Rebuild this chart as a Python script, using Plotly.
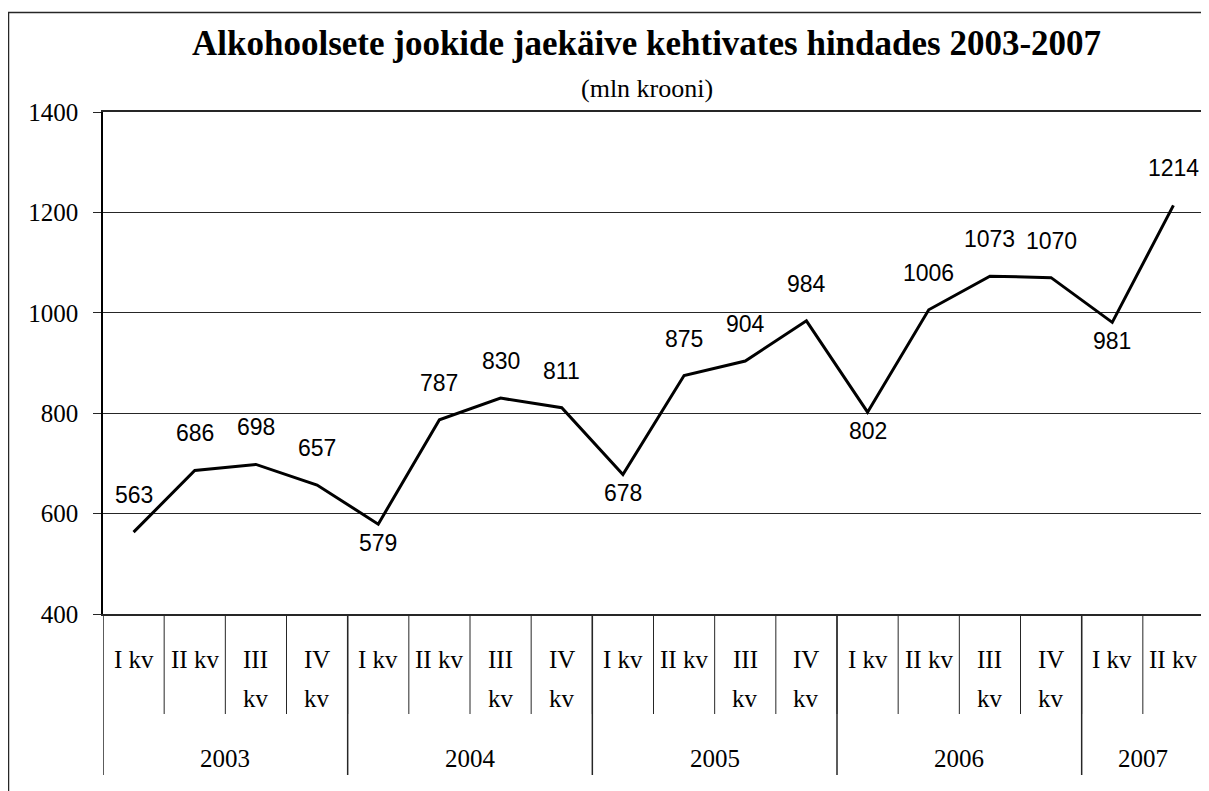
import plotly.graph_objects as go

# quarterly retail sales of alcoholic beverages, mln kroons
YEARS = ["2003", "2004", "2005", "2006", "2007"]
QUARTERS = [
    "I kv", "II kv", "III kv", "IV kv",
    "I kv", "II kv", "III kv", "IV kv",
    "I kv", "II kv", "III kv", "IV kv",
    "I kv", "II kv", "III kv", "IV kv",
    "I kv", "II kv",
]
QUARTERS_PER_YEAR = [4, 4, 4, 4, 2]
SALES = [563, 686, 698, 657,
         579, 787, 830, 811,
         678, 875, 904, 984,
         802, 1006, 1073, 1070,
         981, 1214]

TITLE = "Alkohoolsete jookide jaekäive kehtivates hindades 2003-2007"
SUBTITLE = "(mln krooni)"

# labels too wide for their slot get wrapped onto two lines, as in Excel
WRAPPED = {"III kv", "IV kv"}

SERIF = "Liberation Serif, Times New Roman, serif"
SANS = "Liberation Sans, Arial, sans-serif"
LINE_COLOR = "#262626"

# page has an 8px body margin; targets below are screen pixels
OFF = 8
W, H = 1209, 791
L, R, T, B = 103 - OFF, 1204 - OFF, 112 - OFF, 614 - OFF


def py(screen_y):
    """screen pixel row -> paper y"""
    return (B - (screen_y - OFF)) / (B - T)


def px_(screen_x):
    return (screen_x - OFF - L) / (R - L)


def label(fig, text, **kw):
    fig.add_annotation(text=text, showarrow=False,
                       xanchor="center", yanchor="middle", **kw)


def sales_line():
    xs = list(range(len(SALES)))
    fig = go.Figure(go.Scatter(x=xs, y=SALES, mode="lines",
                               line=dict(color="black", width=3),
                               hoverinfo="skip", showlegend=False))

    # data labels: below local minima, above everything else
    for i, v in enumerate(SALES):
        below = 0 < i < len(SALES) - 1 and v < SALES[i - 1] and v < SALES[i + 1]
        label(fig, str(v), x=i, y=v, yshift=-19 if below else 37,
              font=dict(family=SANS, size=23, color="black"))

    # category axis, level 1: quarters
    for i, q in enumerate(QUARTERS):
        parts = q.split(" ") if q in WRAPPED else [q]
        for row, part in enumerate(parts):
            label(fig, part, x=i, xref="x", y=py(659 + 39 * row), yref="paper",
                  font=dict(family=SERIF, size=25, color="black"))
        if i < len(QUARTERS) - 1:
            fig.add_shape(type="line", xref="x", yref="paper",
                          x0=i + 0.5, x1=i + 0.5, y0=0, y1=py(714),
                          line=dict(color=LINE_COLOR, width=1))

    # level 2: years
    start = 0
    bounds = [-0.5]
    for year, n in zip(YEARS, QUARTERS_PER_YEAR):
        label(fig, year, x=start + (n - 1) / 2, xref="x", y=py(758), yref="paper",
              font=dict(family=SERIF, size=25, color="black"))
        start += n
        bounds.append(start - 0.5)
    for b in bounds:
        fig.add_shape(type="line", xref="x", yref="paper",
                      x0=b, x1=b, y0=0, y1=py(775),
                      line=dict(color=LINE_COLOR, width=1.5))

    # titles
    label(fig, "<b>" + TITLE + "</b>", x=px_(646), y=py(44),
          xref="paper", yref="paper",
          font=dict(family=SERIF, size=35, color="black"))
    label(fig, SUBTITLE, x=px_(647), y=py(88), xref="paper", yref="paper",
          font=dict(family=SERIF, size=26, color="black"))

    # outer chart border
    fig.add_shape(type="rect", xref="paper", yref="paper",
                  x0=px_(8.5), x1=px_(1240), y0=py(820), y1=py(12.5),
                  line=dict(color=LINE_COLOR, width=1.5))

    fig.update_layout(
        width=W, height=H,
        margin=dict(l=L, r=W - R, t=T, b=H - B),
        paper_bgcolor="white", plot_bgcolor="white",
        showlegend=False,
    )
    fig.update_xaxes(range=[-0.5, len(SALES) - 0.5], showticklabels=False,
                     showgrid=False, zeroline=False, ticks="",
                     showline=True, linecolor=LINE_COLOR, linewidth=1.5, mirror=True)
    fig.update_yaxes(range=[400, 1400], dtick=200, tick0=400,
                     showgrid=True, gridcolor=LINE_COLOR, gridwidth=1,
                     zeroline=False, ticks="outside", ticklen=8,
                     tickcolor=LINE_COLOR, ticklabelstandoff=10,
                     showline=True, linecolor="black", linewidth=1.5, mirror=True,
                     tickfont=dict(family=SERIF, size=25, color="black"))
    return fig


fig = sales_line()
fig.write_html("out.html")
